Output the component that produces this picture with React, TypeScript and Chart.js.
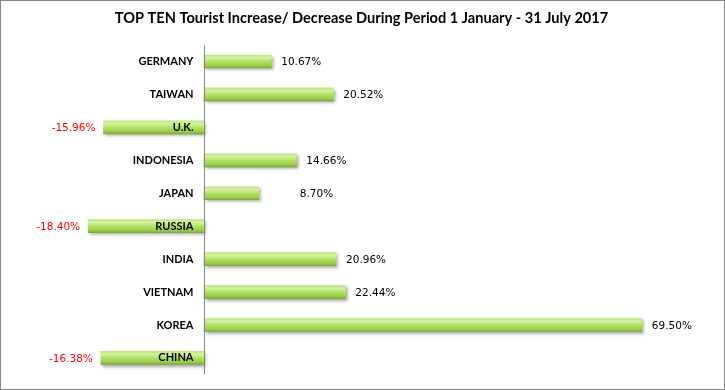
import React, { useEffect, useRef } from "react";
import { Chart, registerables } from "chart.js";

Chart.register(...registerables);

const titleText = "TOP TEN Tourist Increase/ Decrease During Period 1 January - 31 July 2017";
const categories = ["GERMANY", "TAIWAN", "U.K.", "INDONESIA", "JAPAN", "RUSSIA", "INDIA", "VIETNAM", "KOREA", "CHINA"];
const changes = [10.67, 20.52, -15.96, 14.66, 8.7, -18.4, 20.96, 22.44, 69.5, -16.38];
const xMin = -30;
const xMax = 80;

// extra horizontal offset for a value label (Japan label sits further right in the original)
const labelNudge: Record<number, number> = { 4: 31 };

const labelsPlugin = {
  id: "customLabels",
  beforeDatasetsDraw(chart: any) {
    const ctx = chart.ctx;
    ctx.save();
    ctx.shadowColor = "rgba(0,0,0,0.35)";
    ctx.shadowBlur = 3;
    ctx.shadowOffsetX = 2;
    ctx.shadowOffsetY = 2;
  },
  afterDatasetsDraw(chart: any) {
    const ctx = chart.ctx;
    ctx.restore();
    const xs = chart.scales.x;
    const ys = chart.scales.y;
    const area = chart.chartArea;
    const x0 = Math.round(xs.getPixelForValue(0)) + 0.5;
    ctx.save();
    ctx.strokeStyle = "#868686";
    ctx.lineWidth = 1;
    ctx.beginPath();
    ctx.moveTo(x0, area.top);
    ctx.lineTo(x0, area.bottom);
    ctx.stroke();

    // category labels
    ctx.font = "bold 11px Lato";
    ctx.fillStyle = "#000";
    ctx.textAlign = "right";
    ctx.textBaseline = "middle";
    categories.forEach((c, i) => {
      const y = ys.getPixelForValue(i);
      ctx.fillText(c, x0 - 11, y);
    });

    // value labels
    const meta = chart.getDatasetMeta(0);
    ctx.font = "10.5px 'DejaVu Sans'";
    meta.data.forEach((el: any, i: number) => {
      const v = changes[i];
      const txt = v.toFixed(2) + "%";
      const nudge = labelNudge[i] || 0;
      if (v >= 0) {
        ctx.fillStyle = "#000";
        ctx.textAlign = "left";
        ctx.fillText(txt, el.x + 10 + nudge, el.y + 1);
      } else {
        ctx.fillStyle = "#ff0000";
        ctx.textAlign = "right";
        ctx.fillText(txt, el.x - 8, el.y + 1);
      }
    });
    ctx.restore();
  },
};

export default function App() {
  const ref = useRef<HTMLCanvasElement>(null);
  useEffect(() => {
    const canvas = ref.current!;
    const chart = new Chart(canvas, {
      type: "bar",
      data: {
        labels: categories,
        datasets: [
          {
            data: changes,
            barThickness: 13,
            borderWidth: 0,
            borderSkipped: false,
            backgroundColor: (c: any) => {
              const ch = c.chart;
              if (!ch.chartArea || c.type !== "data") return "#a6d65a";
              const cy = ch.scales.y.getPixelForValue(c.dataIndex);
              const g = ch.ctx.createLinearGradient(0, cy - 6.5, 0, cy + 6.5);
              g.addColorStop(0, "#bde57c");
              g.addColorStop(0.22, "#d6f2a4");
              g.addColorStop(0.5, "#b2e064");
              g.addColorStop(0.8, "#9cd04c");
              g.addColorStop(1, "#7dac38");
              return g;
            },
          },
        ],
      },
      options: {
        indexAxis: "y",
        animation: false,
        responsive: false,
        events: [],
        layout: { padding: { left: 14, right: 16, top: 0, bottom: 14.6 } },
        plugins: {
          legend: { display: false },
          tooltip: { enabled: false },
          title: {
            display: true,
            text: titleText,
            color: "#000",
            font: { family: "Lato", weight: "bold", size: 14.6, lineHeight: 1.2 },
            padding: { top: 8.2, bottom: 18.3 },
          },
        },
        scales: {
          x: { display: false, min: xMin, max: xMax },
          y: { display: false },
        },
      },
      plugins: [labelsPlugin],
    });
    return () => chart.destroy();
  }, []);
  return (
    <div
      style={{
        position: "absolute",
        left: 0,
        top: 0,
        width: 725,
        height: 390,
        boxSizing: "border-box",
        border: "1px solid #868686",
        background: "#fff",
      }}
    >
      <canvas ref={ref} width={723} height={388} style={{ display: "block" }} />
    </div>
  );
}
